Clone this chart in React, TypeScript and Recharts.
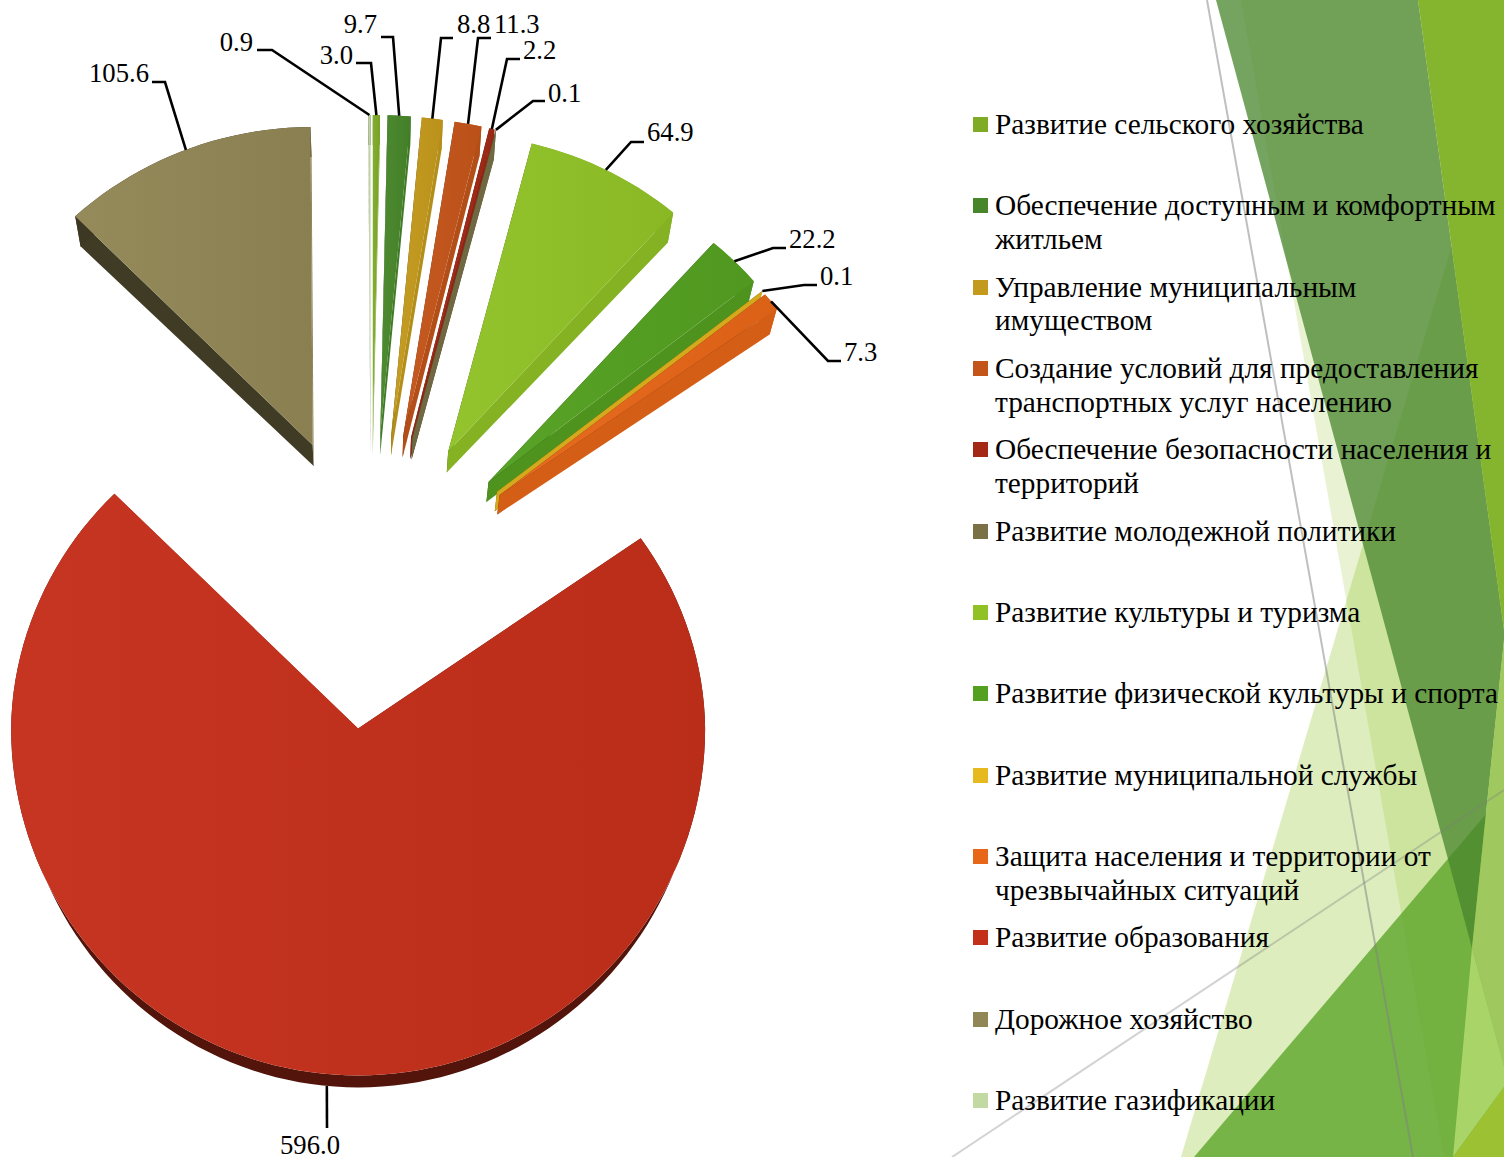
import { PieChart, Pie, Cell, Legend } from "recharts";

const categories = [
  "Развитие сельского хозяйства",
  "Обеспечение доступным и комфортным житльем",
  "Управление муниципальным имуществом",
  "Создание условий для предоставления транспортных услуг населению",
  "Обеспечение безопасности населения и территорий",
  "Развитие молодежной политики",
  "Развитие культуры и туризма",
  "Развитие физической культуры и спорта",
  "Развитие муниципальной службы",
  "Защита населения и территории от чрезвычайных ситуаций",
  "Развитие образования",
  "Дорожное хозяйство",
  "Развитие газификации",
];
const values = [3.0, 9.7, 8.8, 11.3, 2.2, 0.1, 64.9, 22.2, 0.1, 7.3, 596.0, 105.6, 0.9];
const colors = [
  "#7fab27", "#47862a", "#c49a1c", "#c4551a", "#a32916", "#7a7147", "#90c226",
  "#54a021", "#e6b91e", "#e76618", "#c42f1a", "#918655", "#c3d9a3",
];

// hand placed in the original: [elbow x, elbow y, line end x, text x, text y]
const labelSpots = [
  [371, 63, 356, 353, 64],
  [393, 37, 381, 377, 33],
  [441, 38, 453, 457, 33],
  [478, 38, 491, 494, 33],
  [507, 59, 520, 523, 59],
  [533, 101, 545, 548, 102],
  [631, 142, 644, 647, 141],
  [773, 248, 786, 789, 248],
  [804, 285, 817, 820, 285],
  [828, 361, 841, 844, 361],
  [327, 1128, 327, 340, 1154],
  [165, 82, 152, 149, 82],
  [272, 50, 257, 253, 51],
];

const tableData = categories.map((name, i) => ({ name, value: values[i] }));

const EXPLODE = 148;
const EXPLODE_RIGHT = 158;
const FONT = "'Liberation Serif', serif";

const shade = (hex: string, k: number, white = 0) => {
  const n = parseInt(hex.slice(1), 16);
  const c = [n >> 16, (n >> 8) & 255, n & 255].map((v) =>
    Math.min(255, Math.round(v * k + (255 - v * k) * white))
  );
  return `rgb(${c[0]},${c[1]},${c[2]})`;
};

const rad = (a: number) => (a * Math.PI) / 180;

// back of the pie is a bit smaller because of the perspective
const radiusAt = (R: number, a: number, mid: number) => {
  const up = Math.sin(rad(a));
  const k = Math.sin(rad(mid)) < 0 ? 0.5 : 1;
  return up > 0 ? R - 29 * k * Math.pow(up, 1.4) : R;
};

const apexOf = (cx: number, cy: number, mid: number) => {
  const c = Math.cos(rad(mid));
  return {
    x: cx + (c > 0 ? EXPLODE_RIGHT : EXPLODE) * c,
    y: cy - EXPLODE * Math.sin(rad(mid)),
  };
};

const drop = (p: { x: number; y: number }, cx: number, cy: number) => {
  const t = Math.max(0, Math.min(1, (cy + 494 - p.y) / 855));
  return {
    x: p.x + (cx - p.x) * 0.018,
    y: p.y + 12 + 18 * Math.pow(t, 2.27),
  };
};

const toPath = (pts: { x: number; y: number }[]) =>
  "M" + pts.map((p) => `${p.x.toFixed(2)},${p.y.toFixed(2)}`).join("L") + "Z";

function Slice3D(props: any) {
  const { cx, cy, outerRadius, startAngle, endAngle, midAngle, name } = props;
  const index = categories.indexOf(name);
  const fill = colors[index];
  const mid = midAngle ?? (startAngle + endAngle) / 2;
  const apex = apexOf(cx, cy, mid);
  const steps = Math.max(2, Math.ceil(Math.abs(startAngle - endAngle) / 2));
  const arc = [];
  for (let i = 0; i <= steps; i++) {
    const a = startAngle + ((endAngle - startAngle) * i) / steps;
    const r = radiusAt(outerRadius, a, mid);
    arc.push({ x: apex.x + r * Math.cos(rad(a)), y: apex.y - r * Math.sin(rad(a)) });
  }
  const low = arc.map((p) => drop(p, cx, cy));
  const lowApex = drop(apex, cx, cy);
  const first = arc[0];
  const last = arc[arc.length - 1];
  const arcLight = Math.sin(rad(mid)) > 0 && Math.cos(rad(mid)) > 0;
  return (
    <g>
      <defs>
        <linearGradient id={`top-${index}`} x1="0" y1="0" x2="1" y2="0">
          <stop offset="0" stopColor={shade(fill, 1, 0.03)} />
          <stop offset="1" stopColor={shade(fill, 0.95)} />
        </linearGradient>
      </defs>
      <path
        d={toPath([apex, first, low[0], lowApex])}
        fill={shade(fill, 0.44)}
      />
      <path
        d={toPath([...arc, ...[...low].reverse()])}
        fill={shade(fill, arcLight ? 0.92 : 0.42)}
      />
      <path
        d={toPath([apex, last, low[low.length - 1], lowApex])}
        fill={shade(fill, 0.92)}
      />
      <path d={toPath([apex, ...arc])} fill={`url(#top-${index})`} />
    </g>
  );
}

function SliceLabel(props: any) {
  const { cx, cy, outerRadius, midAngle, index, value } = props;
  const apex = apexOf(cx, cy, midAngle);
  const front = Math.sin(rad(midAngle)) < -0.9;
  const r = radiusAt(outerRadius, midAngle, midAngle) + (front ? 12 : 0);
  const sx = apex.x + r * Math.cos(rad(midAngle));
  const sy = apex.y - r * Math.sin(rad(midAngle));
  const [ex, ey, lx, tx, ty] = labelSpots[index];
  const anchor = tx < lx || index === 10 ? "end" : "start";
  return (
    <g>
      <polyline
        points={`${sx},${sy} ${ex},${ey} ${lx},${ey}`}
        fill="none"
        stroke="#000"
        strokeWidth={2.6}
      />
      <text x={tx} y={ty} textAnchor={anchor} fontFamily={FONT} fontSize={26.67} fill="#000">
        {value.toFixed(1)}
      </text>
    </g>
  );
}

function LegendList({ payload }: any) {
  return (
    <div style={{ fontFamily: FONT, fontSize: 29.33, lineHeight: "33.5px", color: "#000" }}>
      {(payload || []).map((e: any) => (
        <div key={e.value} style={{ height: 81.35, position: "relative", paddingLeft: 23, width: 510 }}>
          <span
            style={{
              position: "absolute",
              left: 1,
              top: 9,
              width: 15,
              height: 15,
              background: e.color,
            }}
          />
          {e.value}
        </div>
      ))}
    </div>
  );
}

function Backdrop() {
  return (
    <svg
      width={1504}
      height={1157}
      style={{ position: "absolute", left: 0, top: 0 }}
    >
      <polygon points="1241,0 1504,0 1504,1157 1444,1157" fill="#90c226" opacity={0.2} />
      <polygon points="1504,70 1181,1157 1504,1157" fill="#90c226" opacity={0.3} />
      <polygon points="1194,1157 1504,793 1504,1157" fill="#54a021" opacity={0.75} />
      <polygon points="1216,0 1418,0 1504,630 1504,640 1472,948" fill="#47852c" opacity={0.75} />
      <polygon points="1418,0 1504,0 1504,630" fill="#85b42e" />
      <polygon points="1504,640 1472,948 1504,1066" fill="#9fc95f" />
      <polygon points="1472,948 1504,1066 1504,1087 1453,1157" fill="#a8d468" />
      <polygon points="1453,1157 1504,1087 1504,1157" fill="#9cc233" />
      <line x1={1207} y1={0} x2={1413} y2={1157} stroke="#7f7f7f" strokeOpacity={0.5} strokeWidth={2} />
      <line x1={952} y1={1157} x2={1504} y2={790} stroke="#7f7f7f" strokeOpacity={0.35} strokeWidth={2} />
    </svg>
  );
}

export default function App() {
  return (
    <div
      style={{
        position: "absolute",
        left: 0,
        top: 0,
        width: 1504,
        height: 1157,
        overflow: "hidden",
        background: "#fff",
      }}
    >
      <Backdrop />
      <div style={{ position: "absolute", left: 0, top: 0 }}>
        <PieChart width={1504} height={1157} margin={{ top: 0, right: 0, bottom: 0, left: 0 }}>
          <Pie
            data={tableData}
            dataKey="value"
            nameKey="name"
            cx={371}
            cy={581}
            outerRadius={347}
            startAngle={90}
            endAngle={-270}
            stroke="none"
            shape={Slice3D}
            label={SliceLabel}
            labelLine={false}
            isAnimationActive={false}
          >
            {tableData.map((d, i) => (
              <Cell key={d.name} fill={colors[i]} />
            ))}
          </Pie>
          <Legend
            content={LegendList}
            layout="vertical"
            itemSorter={null}
            wrapperStyle={{ position: "absolute", left: 972, top: 108, width: 532, bottom: "auto" }}
          />
        </PieChart>
      </div>
    </div>
  );
}
